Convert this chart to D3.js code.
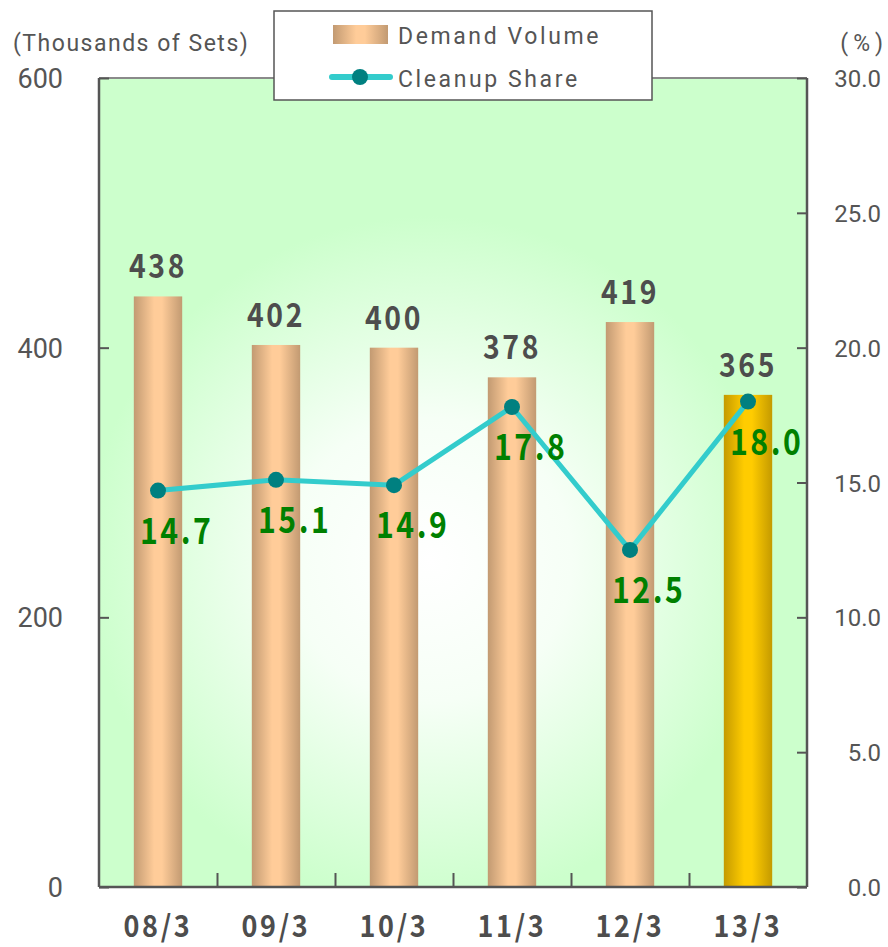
<!DOCTYPE html>
<html>
<head>
<meta charset="utf-8">
<script src="https://cdn.jsdelivr.net/npm/d3@7"></script>
<style>
  html, body { margin: 0; padding: 0; background: #fff; }
  svg { display: block; }
</style>
</head>
<body>
<svg id="chart" width="888" height="947"></svg>
<script>
// Fiscal-year periods and their series
const categories = ["08/3", "09/3", "10/3", "11/3", "12/3", "13/3"];
const demandVolume = [438, 402, 400, 378, 419, 365];
const cleanupShare = [14.7, 15.1, 14.9, 17.8, 12.5, 18.0];
const leftTicks = [0, 200, 400, 600];
const rightTicks = [0, 5, 10, 15, 20, 25, 30];

const svg = d3.select("#chart");
const m = { left: 99, right: 807, top: 78, bottom: 887 };

const x = d3.scaleBand().domain(categories).range([m.left, m.right]).paddingInner(0.59).paddingOuter(0.295);
const yL = d3.scaleLinear().domain([0, 600]).range([m.bottom, m.top]);
const yR = d3.scaleLinear().domain([0, 30]).range([m.bottom, m.top]);

const defs = svg.append("defs");
const bg = defs.append("radialGradient").attr("id", "bg")
  .attr("gradientUnits", "userSpaceOnUse").attr("cx", 430).attr("cy", 560).attr("r", 430);
bg.append("stop").attr("offset", "0%").attr("stop-color", "#ffffff");
bg.append("stop").attr("offset", "33%").attr("stop-color", "#f6fff6");
bg.append("stop").attr("offset", "80%").attr("stop-color", "#ccffcc");
bg.append("stop").attr("offset", "100%").attr("stop-color", "#ccffcc");

function barGrad(id, edge, mid) {
  const g = defs.append("linearGradient").attr("id", id).attr("x1", "0").attr("x2", "1").attr("y1", "0").attr("y2", "0");
  g.append("stop").attr("offset", "0%").attr("stop-color", edge);
  g.append("stop").attr("offset", "42%").attr("stop-color", mid);
  g.append("stop").attr("offset", "58%").attr("stop-color", mid);
  g.append("stop").attr("offset", "100%").attr("stop-color", edge);
}
barGrad("barTan", "#c29a72", "#ffcc99");
barGrad("barGold", "#c49a00", "#ffcc00");

// Condensed gothic-style text used for values and period labels
const gothic = "'Noto Sans CJK JP', sans-serif";
function gothicText(sel, size) {
  return sel.attr("font-family", gothic).attr("font-weight", 700)
    .attr("font-size", size).attr("letter-spacing", 3);
}

// Plot background
svg.append("rect").attr("x", m.left).attr("y", m.top)
  .attr("width", m.right - m.left).attr("height", m.bottom - m.top)
  .attr("fill", "url(#bg)");
svg.append("line").attr("x1", m.left).attr("x2", m.right).attr("y1", m.top).attr("y2", m.top)
  .attr("stroke", "#8a8a8a").attr("stroke-width", 2);

// Bars
const last = categories.length - 1;
svg.append("g").selectAll("rect").data(demandVolume).join("rect")
  .attr("x", (d, i) => x(categories[i]))
  .attr("width", x.bandwidth())
  .attr("y", d => yL(d))
  .attr("height", d => yL(0) - yL(d))
  .attr("fill", (d, i) => i === last ? "url(#barGold)" : "url(#barTan)");

// Bar value labels
gothicText(svg.append("g").selectAll("text").data(demandVolume).join("text"), 33)
  .attr("transform", (d, i) => `translate(${x(categories[i]) + x.bandwidth() / 2},${yL(d) - 18}) scale(0.86,1)`)
  .attr("text-anchor", "middle")
  .attr("fill", "#4d4d4d")
  .text(d => d);

// Axes
const axisColor = "#555";
const gL = svg.append("g").attr("transform", `translate(${m.left},0)`)
  .call(d3.axisRight(yL).tickValues(leftTicks).tickSize(10).tickFormat(""));
const gR = svg.append("g").attr("transform", `translate(${m.right},0)`)
  .call(d3.axisLeft(yR).tickValues(rightTicks).tickSize(10).tickFormat(""));
const bounds = categories.slice(1).map(c => x(c) - x.step() * x.paddingInner() / 2);
const gX = svg.append("g").attr("transform", `translate(0,${m.bottom})`)
  .call(d3.axisTop(d3.scaleLinear().domain([m.left, m.right]).range([m.left, m.right]))
    .tickValues(bounds).tickSize(14).tickFormat(""));
[gL, gR, gX].forEach(g => {
  g.select(".domain").attr("stroke", axisColor).attr("stroke-width", 2.5);
  g.selectAll(".tick line").attr("stroke", axisColor).attr("stroke-width", 2);
});
gL.select(".domain").attr("d", `M0,${m.top}V${m.bottom}`);
gR.select(".domain").attr("d", `M0,${m.top}V${m.bottom}`);
gX.select(".domain").attr("d", `M${m.left},0H${m.right}`);

// Tick labels
const tickFont = "Roboto, 'Liberation Sans', sans-serif";
svg.append("g").selectAll("text").data(leftTicks).join("text")
  .attr("x", 63).attr("y", d => yL(d) + 10)
  .attr("text-anchor", "end").attr("font-family", tickFont).attr("font-size", 27)
  .attr("fill", axisColor).text(d => d);
svg.append("g").selectAll("text").data(rightTicks).join("text")
  .attr("x", 881).attr("y", d => yR(d) + 9)
  .attr("text-anchor", "end").attr("font-family", tickFont).attr("font-size", 24)
  .attr("fill", axisColor).text(d => d.toFixed(1));
gothicText(svg.append("g").selectAll("text").data(categories).join("text"), 30)
  .attr("transform", d => `translate(${x(d) + x.bandwidth() / 2},937) scale(0.9,1)`)
  .attr("text-anchor", "middle")
  .attr("fill", "#4d4d4d").text(d => d);

// Axis titles
svg.append("text").attr("x", 13).attr("y", 51)
  .attr("font-family", tickFont).attr("font-size", 23).attr("letter-spacing", 1.5).attr("fill", axisColor)
  .text("(Thousands of Sets)");
svg.append("text").attr("x", 888).attr("y", 51).attr("text-anchor", "end")
  .attr("font-family", tickFont).attr("font-size", 23).attr("letter-spacing", 5).attr("fill", axisColor)
  .text("(%)");

// Cleanup share line
const cx = (d, i) => x(categories[i]) + x.bandwidth() / 2;
svg.append("path").datum(cleanupShare)
  .attr("fill", "none").attr("stroke", "#33cccc").attr("stroke-width", 5)
  .attr("d", d3.line().x(cx).y(d => yR(d)));
svg.append("g").selectAll("circle").data(cleanupShare).join("circle")
  .attr("cx", cx).attr("cy", d => yR(d)).attr("r", 8).attr("fill", "#008080");
gothicText(svg.append("g").selectAll("text").data(cleanupShare).join("text"), 36)
  .attr("transform", (d, i) => `translate(${cx(d, i) - 18},${yR(d) + 53}) scale(0.84,1)`)
  .attr("text-anchor", "start")
  .attr("fill", "#008000").text(d => d.toFixed(1));

// Legend
const lg = svg.append("g");
lg.append("rect").attr("x", 274).attr("y", 11).attr("width", 378).attr("height", 89)
  .attr("fill", "#fff").attr("stroke", "#555").attr("stroke-width", 1.5);
lg.append("rect").attr("x", 333).attr("y", 25).attr("width", 55).attr("height", 19).attr("fill", "url(#barTan)");
lg.append("line").attr("x1", 332).attr("x2", 390).attr("y1", 77).attr("y2", 77)
  .attr("stroke", "#33cccc").attr("stroke-width", 6).attr("stroke-linecap", "round");
lg.append("circle").attr("cx", 360).attr("cy", 77).attr("r", 8).attr("fill", "#008080");
lg.append("text").attr("x", 398).attr("y", 44).attr("font-family", tickFont).attr("font-size", 23)
  .attr("letter-spacing", 2.6).attr("fill", axisColor).text("Demand Volume");
lg.append("text").attr("x", 398).attr("y", 87).attr("font-family", tickFont).attr("font-size", 23)
  .attr("letter-spacing", 2.6).attr("fill", axisColor).text("Cleanup Share");
</script>
</body>
</html>
